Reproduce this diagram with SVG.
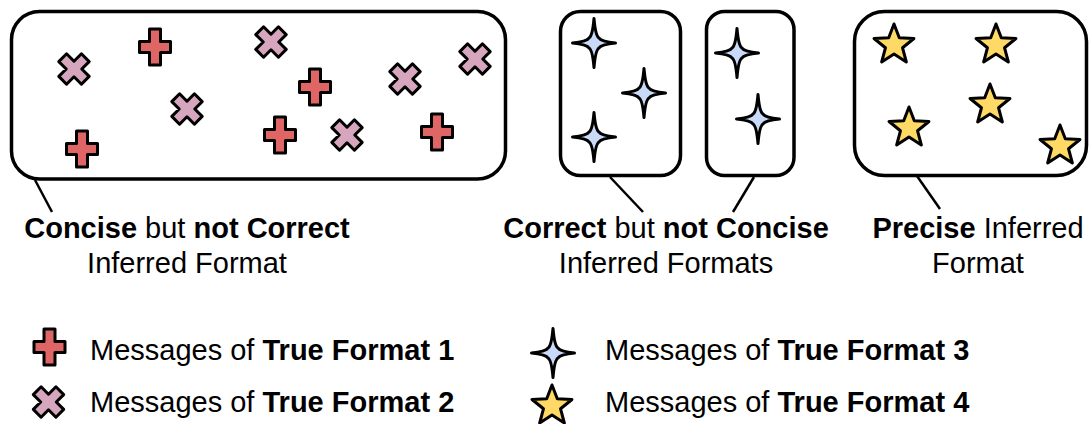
<svg xmlns="http://www.w3.org/2000/svg" xmlns:xlink="http://www.w3.org/1999/xlink" width="1091" height="424" viewBox="0 0 1091 424">
<style>
.box{fill:#fff;stroke:#000;stroke-width:3.5}
.conn{stroke:#000;stroke-width:2.5;fill:none}
.sym{stroke:#000;stroke-width:3;stroke-linejoin:round}
.plus{fill:#e06666}
.xm{fill:#d5a6bd}
.spk{fill:#c9daf8}
.star{fill:#ffd966}
text{font-family:"Liberation Sans",Arial,sans-serif;font-size:29px;fill:#000}
.b{font-weight:bold}
</style>
<defs>
<path id="plus" class="sym plus" d="M-5.5,-18 H5.5 V-5.5 H15.5 V5.5 H5.5 V18 H-5.5 V5.5 H-15.5 V-5.5 H-5.5 Z"/>
<path id="xm" class="sym xm" transform="rotate(45)" d="M-5.5,-16 H5.5 V-5.5 H16 V5.5 H5.5 V16 H-5.5 V5.5 H-16 V-5.5 H-5.5 Z"/>
<path id="spk" class="sym spk" d="M0,-24.5 Q1.5,-7 5,-5 Q7,-1.5 21.5,0 Q7,1.5 5,5 Q1.5,7 0,24.5 Q-1.5,7 -5,5 Q-7,1.5 -21.5,0 Q-7,-1.5 -5,-5 Q-1.5,-7 0,-24.5 Z"/>
<path id="star" class="sym star" d="M0,-21 L5.29,-7.28 L19.97,-6.49 L8.56,2.78 L12.34,16.99 L0,9 L-12.34,16.99 L-8.56,2.78 L-19.97,-6.49 L-5.29,-7.28 Z"/>
</defs>

<g id="connectors">
<line class="conn" x1="35" y1="180" x2="52" y2="212"/>
<line class="conn" x1="610" y1="177" x2="643" y2="212"/>
<line class="conn" x1="754" y1="177" x2="733" y2="212"/>
<line class="conn" x1="917" y1="176" x2="940" y2="209"/>
</g>

<g id="box-concise">
<rect class="box" x="11.5" y="11.5" width="494" height="167.5" rx="28"/>
<use href="#plus" x="155" y="47"/>
<use href="#plus" x="315" y="87"/>
<use href="#plus" x="82" y="149"/>
<use href="#plus" x="280" y="135"/>
<use href="#plus" x="437" y="132"/>
<use href="#xm" x="74" y="69"/>
<use href="#xm" x="187" y="109"/>
<use href="#xm" x="271" y="42"/>
<use href="#xm" x="405" y="79"/>
<use href="#xm" x="475" y="59"/>
<use href="#xm" x="347" y="135"/>
</g>

<g id="box-correct-a">
<rect class="box" x="560.5" y="11.5" width="120" height="164" rx="20"/>
<use href="#spk" x="594" y="43"/>
<use href="#spk" x="644" y="93"/>
<use href="#spk" x="594" y="137"/>
</g>

<g id="box-correct-b">
<rect class="box" x="706.5" y="11.5" width="87.5" height="164" rx="18"/>
<use href="#spk" x="737" y="53"/>
<use href="#spk" x="758" y="119"/>
</g>

<g id="box-precise">
<rect class="box" x="854.5" y="11.5" width="232" height="164" rx="30"/>
<use href="#star" x="894" y="45"/>
<use href="#star" x="996" y="45"/>
<use href="#star" x="990" y="105"/>
<use href="#star" x="909" y="128"/>
<use href="#star" x="1060" y="146"/>
</g>

<g id="label-concise">
<text x="187" y="238" text-anchor="middle"><tspan class="b">Concise</tspan> but <tspan class="b">not Correct</tspan></text>
<text x="187" y="273" text-anchor="middle">Inferred Format</text>
</g>

<g id="label-correct">
<text x="666" y="238" text-anchor="middle"><tspan class="b">Correct</tspan> but <tspan class="b">not Concise</tspan></text>
<text x="666" y="273" text-anchor="middle">Inferred Formats</text>
</g>

<g id="label-precise">
<text x="978" y="238" text-anchor="middle"><tspan class="b">Precise</tspan> Inferred</text>
<text x="978" y="273" text-anchor="middle">Format</text>
</g>

<g id="legend-1">
<use href="#plus" x="49.5" y="347"/>
<text x="90" y="360">Messages of <tspan class="b">True Format 1</tspan></text>
</g>
<g id="legend-2">
<use href="#xm" x="48.5" y="402"/>
<text x="90" y="412">Messages of <tspan class="b">True Format 2</tspan></text>
</g>
<g id="legend-3">
<use href="#spk" x="553" y="353"/>
<text x="605" y="360">Messages of <tspan class="b">True Format 3</tspan></text>
</g>
<g id="legend-4">
<use href="#star" x="552" y="406"/>
<text x="605" y="412">Messages of <tspan class="b">True Format 4</tspan></text>
</g>
</svg>
